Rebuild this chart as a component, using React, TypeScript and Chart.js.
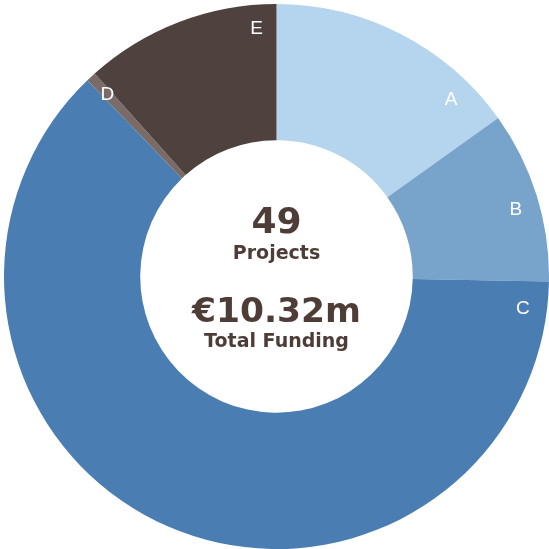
import React, { useEffect, useRef } from "react";
import { Chart, registerables } from "chart.js";

Chart.register(...registerables);

const categories = ["A", "B", "C", "D", "E"];
const fundingValues = [1.56, 1.05, 6.45, 0.06, 1.2];
const segmentColors = ["#B5D5EE", "#78A3CB", "#4A7EB2", "#7A6A68", "#4F423E"];
const labelFractions = [0.82, 0.545, 0.028, 0.5, 0.89];
const centerLines = ["49", "Projects", "€10.32m", "Total Funding"];

const textColor = "#4E3C37";
const centerFont = "'DejaVu Sans', sans-serif";

const labelPlugin = {
  id: "segmentLabels",
  afterDatasetsDraw(chart: any) {
    const ctx = chart.ctx;
    const meta = chart.getDatasetMeta(0);
    ctx.save();
    ctx.fillStyle = "#FFFFFF";
    ctx.font = "19px 'Liberation Sans', Arial, sans-serif";
    ctx.textAlign = "center";
    ctx.textBaseline = "middle";
    meta.data.forEach((arc: any, i: number) => {
      const p = arc.getProps(["x", "y", "startAngle", "endAngle", "outerRadius"], true);
      const a = p.startAngle + (p.endAngle - p.startAngle) * labelFractions[i];
      const r = p.outerRadius - 24;
      ctx.fillText(categories[i], p.x + Math.cos(a) * r, p.y + Math.sin(a) * r);
    });
    // center text
    const first: any = meta.data[0];
    const cx = first.x;
    const cy = first.y;
    ctx.fillStyle = textColor;
    ctx.textBaseline = "alphabetic";
    ctx.font = `bold 36px ${centerFont}`;
    ctx.fillText(centerLines[0], cx, cy - 43.5);
    ctx.font = `bold 19px ${centerFont}`;
    ctx.fillText(centerLines[1], cx, cy - 17.5);
    ctx.font = `bold 34.5px ${centerFont}`;
    ctx.fillText(centerLines[2], cx, cy + 45);
    ctx.font = `bold 19px ${centerFont}`;
    ctx.fillText(centerLines[3], cx, cy + 70);
    ctx.restore();
  },
};

export default function App() {
  const ref = useRef<HTMLCanvasElement>(null);
  useEffect(() => {
    if (!ref.current) return;
    const chart = new Chart(ref.current, {
      type: "doughnut",
      data: {
        labels: categories,
        datasets: [
          {
            data: fundingValues,
            backgroundColor: segmentColors,
            borderWidth: 0,
            hoverOffset: 0,
          },
        ],
      },
      options: {
        responsive: false,
        animation: false,
        cutout: "50%",
        layout: { padding: { left: 4, top: 4, right: 0, bottom: 0 } },
        plugins: {
          legend: { display: false },
          tooltip: { enabled: false },
        },
      },
      plugins: [labelPlugin],
    });
    return () => chart.destroy();
  }, []);
  return (
    <div style={{ position: "fixed", left: 0, top: 0, width: 549, height: 549, background: "#fff" }}>
      <canvas ref={ref} width={549} height={549} />
    </div>
  );
}
